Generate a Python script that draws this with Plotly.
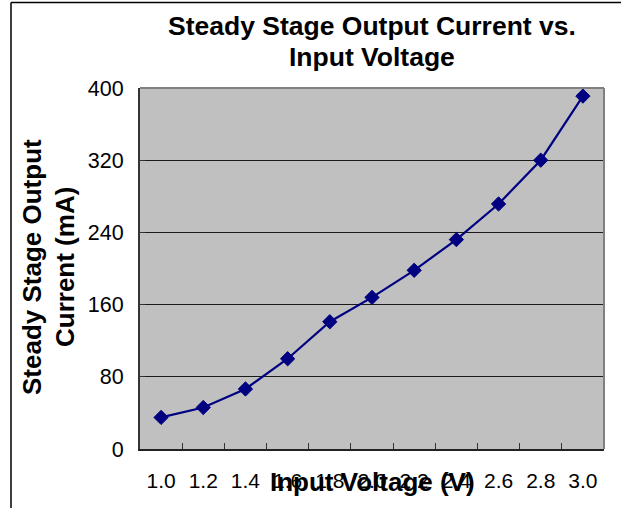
import plotly.graph_objects as go

voltage_labels = ["1.0", "1.2", "1.4", "1.6", "1.8", "2.0", "2.2", "2.4", "2.6", "2.8", "3.0"]
current_ma = [35, 46, 66.5, 100, 141, 168, 198, 232, 271.5, 320, 391]
y_ticks = [0, 80, 160, 240, 320, 400]

W, H = 621, 508
L, R, T, B = 140, 17, 88, 59
pw, ph = W - L - R, H - T - B

def px_x(p):
    return (p - L) / pw

def px_y(p):
    return (H - B - p) / ph

FONT = "Arial, Liberation Sans, sans-serif"

fig = go.Figure()
fig.add_trace(go.Scatter(
    x=voltage_labels, y=current_ma, mode="lines+markers",
    line=dict(color="#000080", width=2.2),
    marker=dict(symbol="diamond", size=11, color="#000080",
                line=dict(color="#000080", width=1)),
    showlegend=False, cliponaxis=False,
))

title_lines = ["Steady Stage Output Current vs.", "Input Voltage"]
ytitle_lines = ["Steady Stage Output", "Current (mA)"]

annotations = [
    dict(text="<b>%s</b>" % title_lines[0], xref="paper", yref="paper",
         x=0.5, y=px_y(26), xanchor="center", yanchor="middle",
         showarrow=False, font=dict(size=26.5, family=FONT, color="black")),
    dict(text="<b>%s</b>" % title_lines[1], xref="paper", yref="paper",
         x=0.5, y=px_y(57), xanchor="center", yanchor="middle",
         showarrow=False, font=dict(size=26.5, family=FONT, color="black")),
    dict(text="<b>Input Voltage (V)</b>", xref="paper", yref="paper",
         x=0.5, y=px_y(482), xanchor="center", yanchor="middle",
         showarrow=False, font=dict(size=26, family=FONT, color="black")),
    dict(text="<b>%s</b>" % ytitle_lines[0], textangle=-90, xref="paper", yref="paper",
         x=px_x(32), y=px_y(267), xanchor="center", yanchor="middle",
         showarrow=False, font=dict(size=26, family=FONT, color="black")),
    dict(text="<b>%s</b>" % ytitle_lines[1], textangle=-90, xref="paper", yref="paper",
         x=px_x(65), y=px_y(267), xanchor="center", yanchor="middle",
         showarrow=False, font=dict(size=26, family=FONT, color="black")),
]

fig.update_layout(
    width=W, height=H,
    margin=dict(l=L, r=R, t=T, b=B, pad=0),
    paper_bgcolor="white", plot_bgcolor="#C0C0C0",
    font=dict(family=FONT, color="black", size=20),
    xaxis=dict(
        type="category", range=[-0.5, 10.5],
        tickson="boundaries", ticks="inside", ticklen=6, tickwidth=1, tickcolor="#333333",
        showline=True, linecolor="#222222", linewidth=2,
        showgrid=False, zeroline=False,
        tickfont=dict(size=21, family=FONT), ticklabelstandoff=12,
    ),
    yaxis=dict(
        range=[0, 400], tickvals=y_ticks, ticktext=[str(v) for v in y_ticks],
        ticks="inside", ticklen=5, tickwidth=1, tickcolor="#333333",
        showline=True, linecolor="#333333", linewidth=2,
        showgrid=True, gridcolor="#1a1a1a", gridwidth=1, zeroline=False,
        tickfont=dict(size=21.5, family=FONT), ticklabelstandoff=10,
    ),
    shapes=[
        dict(type="line", xref="paper", yref="paper", x0=0, x1=1, y0=1, y1=1,
             line=dict(color="#808080", width=2)),
        dict(type="line", xref="paper", yref="paper", x0=1, x1=1, y0=0, y1=1,
             line=dict(color="#808080", width=2)),
        dict(type="line", xref="paper", yref="paper", x0=px_x(11), x1=px_x(11),
             y0=px_y(2.5), y1=px_y(530), line=dict(color="black", width=1.5)),
        dict(type="line", xref="paper", yref="paper", x0=px_x(11), x1=px_x(640),
             y0=px_y(2.5), y1=px_y(2.5), line=dict(color="black", width=1.5)),
    ],
    annotations=annotations,
)

fig.write_html(
    "out.html",
    config={"displayModeBar": False},
    post_script="document.body.style.margin='0';document.body.style.overflow='hidden';",
)
